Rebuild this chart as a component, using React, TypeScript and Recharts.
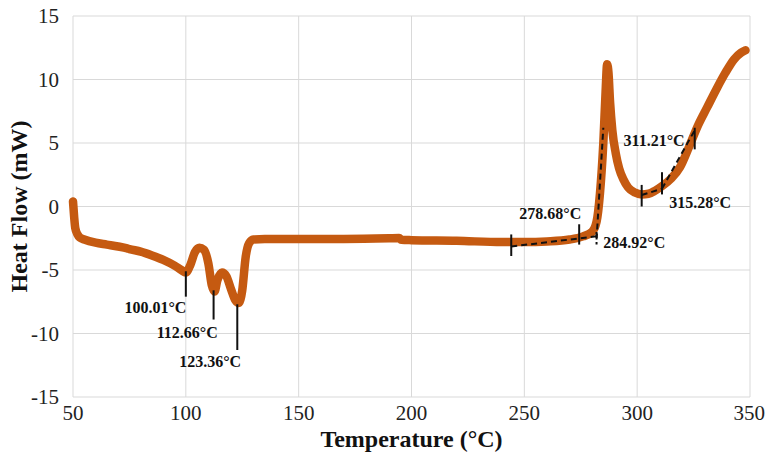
import {
  CartesianGrid,
  ComposedChart,
  Line,
  ReferenceDot,
  ReferenceLine,
  XAxis,
  YAxis,
} from "recharts"

const temps = [
  50, 50.5, 51, 52, 53, 55, 60, 65, 70, 74, 75, 80, 85, 90, 95, 98, 100, 102, 104, 106, 108, 110, 111.5,
  112.7, 114, 116, 118, 120, 122, 123.4, 125, 126.5, 128, 130, 135, 150, 170, 190, 194.5, 195.5, 200, 220, 240,
  250, 260, 270, 276, 280, 282, 283.5, 285, 286, 286.7, 287.3, 288, 289, 290.5, 292, 294, 296, 299, 302,
  305, 308, 311, 315, 319, 323, 327, 331, 335, 339, 343, 346, 348,
]

const heatFlow = [
  0.4, -0.8, -1.7, -2.2, -2.45, -2.6, -2.85, -3.0, -3.15, -3.3, -3.35, -3.55, -3.85, -4.2, -4.65, -5.0, -5.2,
  -4.6, -3.6, -3.25, -3.4, -4.5, -6.2, -6.7, -5.8, -5.2, -5.5, -6.5, -7.4, -7.6, -6.6, -4.0, -2.9, -2.6,
  -2.55, -2.55, -2.55, -2.5, -2.48, -2.62, -2.65, -2.7, -2.8, -2.8, -2.75, -2.6, -2.35, -2.0, -1.2, 1.0, 5.0,
  9.0, 11.2, 10.5, 8.2, 6.0, 4.2, 3.0, 2.1, 1.5, 1.1, 0.95, 1.0, 1.25, 1.6, 2.2, 3.1, 4.7, 6.4, 7.8, 9.2,
  10.5, 11.6, 12.1, 12.3,
]

const xTicks = [50, 100, 150, 200, 250, 300, 350]
const yTicks = [-15, -10, -5, 0, 5, 10, 15]

// solid marker ticks: [x, y1, y2]
const markers = [
  [100, -5.1, -7.1],
  [112.3, -6.6, -8.9],
  [122.8, -7.7, -11.3],
  [244.2, -2.2, -3.9],
  [274.3, -1.4, -3.0],
  [302, 0, 1.7],
  [311, 0.95, 2.7],
  [325.5, 4.5, 6.2],
]

// dashed tangent lines: [x1, y1, x2, y2]
const tangents = [
  [244.2, -3.15, 282, -2.35],
  [282, -2.0, 282, -3.0],
  [282, -2.6, 285, 6.2],
  [302, 0.9, 311, 1.4],
  [311, 1.4, 325.5, 6.0],
]

const labels = [
  { x: 86.5, y: -7.95, text: "100.01°C" },
  { x: 100.6, y: -9.9, text: "112.66°C" },
  { x: 110.8, y: -12.2, text: "123.36°C" },
  { x: 261.5, y: -0.5, text: "278.68°C" },
  { x: 298.7, y: -2.85, text: "284.92°C" },
  { x: 307.5, y: 5.2, text: "311.21°C" },
  { x: 327.9, y: 0.3, text: "315.28°C" },
]

const data = temps.map((t, i) => ({ t, hf: heatFlow[i] }))

const serif = "'Liberation Serif', 'Times New Roman', serif"

export default function App() {
  return (
    <div style={{ position: "absolute", left: 0, top: 0 }}>
      <ComposedChart width={765} height={456} data={data} margin={{ top: 16, right: 15, bottom: 0, left: 0 }}>
        <CartesianGrid stroke="#d9d9d9" strokeWidth={1} />
        <XAxis
          type="number"
          dataKey="t"
          domain={[50, 350]}
          ticks={xTicks}
          axisLine={false}
          tickLine={false}
          height={59}
          tickMargin={2}
          tick={{ fill: "#222", fontSize: 21, fontFamily: serif }}
          label={{
            value: "Temperature (°C)",
            position: "insideBottom",
            offset: 9,
            fill: "#111",
            fontSize: 24,
            fontWeight: "bold",
            fontFamily: serif,
          }}
        />
        <YAxis
          type="number"
          domain={[-15, 15]}
          ticks={yTicks}
          axisLine={false}
          tickLine={false}
          width={73}
          tickMargin={8}
          tick={{ fill: "#222", fontSize: 21, fontFamily: serif }}
          label={{
            value: "Heat Flow (mW)",
            angle: -90,
            position: "insideLeft",
            offset: 18,
            style: { textAnchor: "middle" },
            fill: "#111",
            fontSize: 24,
            fontWeight: "bold",
            fontFamily: serif,
          }}
        />
        <Line
          type="monotone"
          dataKey="hf"
          stroke="#c55a11"
          strokeWidth={8.5}
          dot={false}
          isAnimationActive={false}
          strokeLinecap="round"
          strokeLinejoin="round"
        />
        {markers.map(([x, y1, y2], i) => (
          <ReferenceLine
            key={`m${i}`}
            segment={[
              { x, y: y1 },
              { x, y: y2 },
            ]}
            stroke="#111"
            strokeWidth={2}
          />
        ))}
        {tangents.map(([x1, y1, x2, y2], i) => (
          <ReferenceLine
            key={`t${i}`}
            segment={[
              { x: x1, y: y1 },
              { x: x2, y: y2 },
            ]}
            stroke="#111"
            strokeWidth={2}
            strokeDasharray="6 4"
          />
        ))}
        {labels.map((l, i) => (
          <ReferenceDot
            key={`l${i}`}
            x={l.x}
            y={l.y}
            r={0.01}
            fill="none"
            stroke="none"
            label={{
              value: l.text,
              position: "center",
              fill: "#111",
              fontSize: 16,
              fontWeight: "bold",
              fontFamily: serif,
            }}
          />
        ))}
      </ComposedChart>
    </div>
  )
}
